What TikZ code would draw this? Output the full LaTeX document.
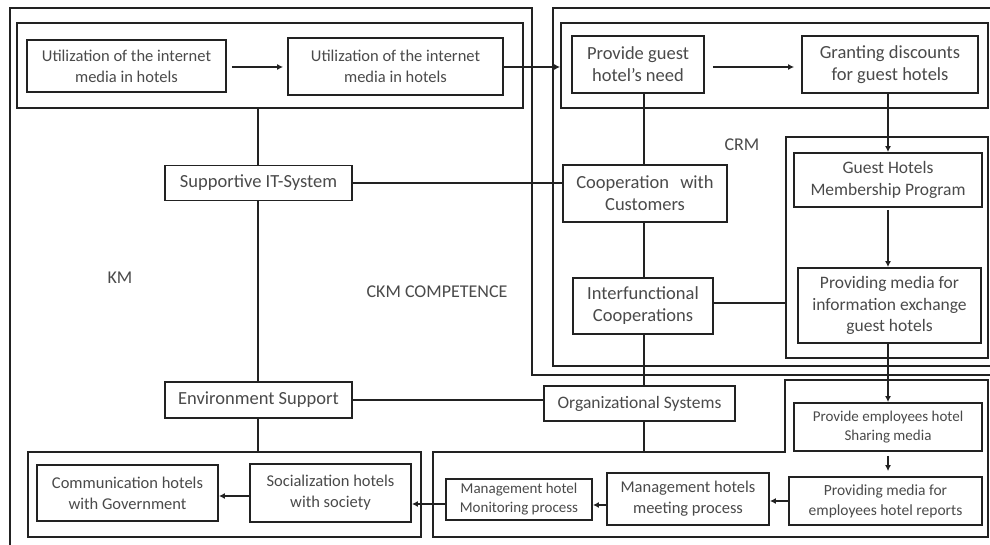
\documentclass[tikz,border=0pt]{standalone}
\usepackage{fontspec}
\setmainfont{Carlito}
\usetikzlibrary{arrows.meta}
\definecolor{ln}{HTML}{222222}
\definecolor{tx}{HTML}{4A4A4A}
\tikzset{
  boxs/.style={draw=ln, line width=1.8pt, align=center, text=tx, inner sep=0pt,
    font=\fontsize{16.5}{21}\selectfont},
  smallbox/.style={boxs, font=\fontsize{15}{19}\selectfont},
  midbox/.style={boxs, font=\fontsize{17.5}{21.5}\selectfont},
  bigbox/.style={boxs, font=\fontsize{18.5}{22}\selectfont},
  frame/.style={draw=ln, line width=1.8pt, inner sep=0pt},
  conn/.style={draw=ln, line width=1.8pt},
  arr/.style={conn, -{Latex[length=6pt,width=6pt]}},
  lbl/.style={text=tx, font=\fontsize{18}{20}\selectfont, inner sep=0pt},
}
\begin{document}
\begin{tikzpicture}[x=1pt,y=-1pt]
\useasboundingbox (0,0) rectangle (990,545);
\clip (0,0) rectangle (990,545);
\fill[white] (0,0) rectangle (990,545);

% outer frames
\draw[frame] (10,560) -- (10,8) -- (532,8) -- (532,375) -- (1000,375);
\draw[frame] (1000,366) -- (553,366) -- (553,8) -- (1000,8);

% group frames
\node[frame, minimum width=506pt, minimum height=85pt] (tlg) at (270,65.5) {};
\node[frame, minimum width=427pt, minimum height=85pt] (trg) at (774.5,65.5) {};
\node[frame, minimum width=202pt, minimum height=221pt] (memf) at (887,247.5) {};
\node[frame, minimum width=393pt, minimum height=85pt] (blg) at (224.5,494.5) {};
\coordinate (brg1) at (433,452);
\coordinate (brg2) at (785,452);
\coordinate (brg3) at (785,380);
\coordinate (brg4) at (988,380);
\coordinate (brg5) at (988,537);
\coordinate (brg6) at (433,537);
\draw[frame] (brg1) -- (brg2) -- (brg3) -- (brg4) -- (brg5) -- (brg6) -- cycle;

% spines
\coordinate (spL) at (258,0);
\coordinate (spR) at (644,0);
\coordinate (spC) at (888,0);

% boxes
\node[boxs, minimum width=199pt, minimum height=52pt] (b1) at (126.5,66) {Utilization of the internet\\media in hotels};
\node[boxs, minimum width=215pt, minimum height=57pt] (b2) at (395.5,66.5) {Utilization of the internet\\media in hotels};
\node[bigbox, minimum width=132pt, minimum height=57pt] (gn) at (638,64.5) {Provide guest\\hotel’s need};
\node[bigbox, minimum width=176pt, minimum height=57pt] (gd) at (890,64.5) {Granting discounts\\for guest hotels};
\node[bigbox, minimum width=187pt, minimum height=35pt] (sup) at (258.5,183) {Supportive IT-System};
\node[bigbox, minimum width=164pt, minimum height=57pt] (coop) at (645,193.5) {Cooperation\hspace{0.6em}with\\Customers};
\node[bigbox, minimum width=140pt, minimum height=56pt] (intf) at (643,306) {Interfunctional\\Cooperations};
\node[midbox, minimum width=188pt, minimum height=54pt] (gm) at (888,180) {Guest Hotels\\Membership Program};
\node[midbox, minimum width=183pt, minimum height=75pt] (ie) at (889.5,305.5) {Providing media for\\information exchange\\guest hotels};
\node[bigbox, minimum width=187pt, minimum height=36pt] (env) at (258.5,400) {Environment Support};
\node[midbox, minimum width=191pt, minimum height=35pt] (org) at (639.5,403.5) {Organizational Systems};
\node[smallbox, minimum width=188pt, minimum height=48pt] (pe) at (888,427) {Provide employees hotel\\Sharing media};
\node[boxs, font=\fontsize{15.5}{20}\selectfont, minimum width=193pt, minimum height=48pt] (rep) at (885.5,501) {Providing media for\\employees hotel reports};
\node[boxs, minimum width=162pt, minimum height=52pt] (meet) at (688,499) {Management hotels\\meeting process};
\node[smallbox, minimum width=146pt, minimum height=41pt] (mon) at (519,499.5) {Management hotel\\Monitoring process};
\node[boxs, minimum width=181pt, minimum height=56pt] (com) at (127.5,493) {Communication hotels\\with Government};
\node[boxs, minimum width=161pt, minimum height=58pt] (soc) at (330.5,493) {Socialization hotels\\with society};

% labels
\node[lbl] (km) at (120,278) {KM};
\node[lbl] (ckm) at (437,292) {CKM COMPETENCE};
\node[lbl] (crm) at (742,145) {CRM};

% connectors
\draw[arr, shorten <=5pt, shorten >=4pt] (b1.east |- 0,67) -- (b2.west |- 0,67);
\draw[arr] (b2.east |- 0,67) -- (trg.west |- 0,67);
\draw[arr, shorten <=8pt, shorten >=7pt] (gn.east |- 0,67) -- (gd.west |- 0,67);
\draw[arr] (gd.south -| spC) -- (gm.north -| spC);
\draw[arr, shorten <=2pt] (gm.south -| spC) -- (ie.north -| spC);
\draw[arr] (ie.south -| spC) -- (pe.north -| spC);
\draw[arr, shorten <=4pt, shorten >=5pt] (pe.south -| spC) -- (rep.north -| spC);
\draw[arr] (rep.west) -- (meet.east |- rep.west);
\draw[arr] (meet.west |- 0,505) -- (mon.east |- 0,505);
\draw[arr] (mon.west |- 0,504) -- (soc.east |- 0,504);
\draw[arr] (soc.west |- 0,496) -- (com.east |- 0,496);

\draw[conn] (tlg.south -| spL) -- (sup.north -| spL);
\draw[conn] (sup.south -| spL) -- (env.north -| spL);
\draw[conn] (env.south -| spL) -- (blg.north -| spL);
\draw[conn] (sup.east) -- (coop.west |- sup.east);
\draw[conn] (gn.south -| spR) -- (coop.north -| spR);
\draw[conn] (coop.south -| spR) -- (intf.north -| spR);
\draw[conn] (intf.south -| spR) -- (org.north -| spR);
\draw[conn] (org.south -| spR) -- (brg1 -| spR);
\draw[conn] (intf.east |- 0,303) -- (memf.west |- 0,303);
\draw[conn] (env.east) -- (org.west |- env.east);
\end{tikzpicture}
\end{document}
